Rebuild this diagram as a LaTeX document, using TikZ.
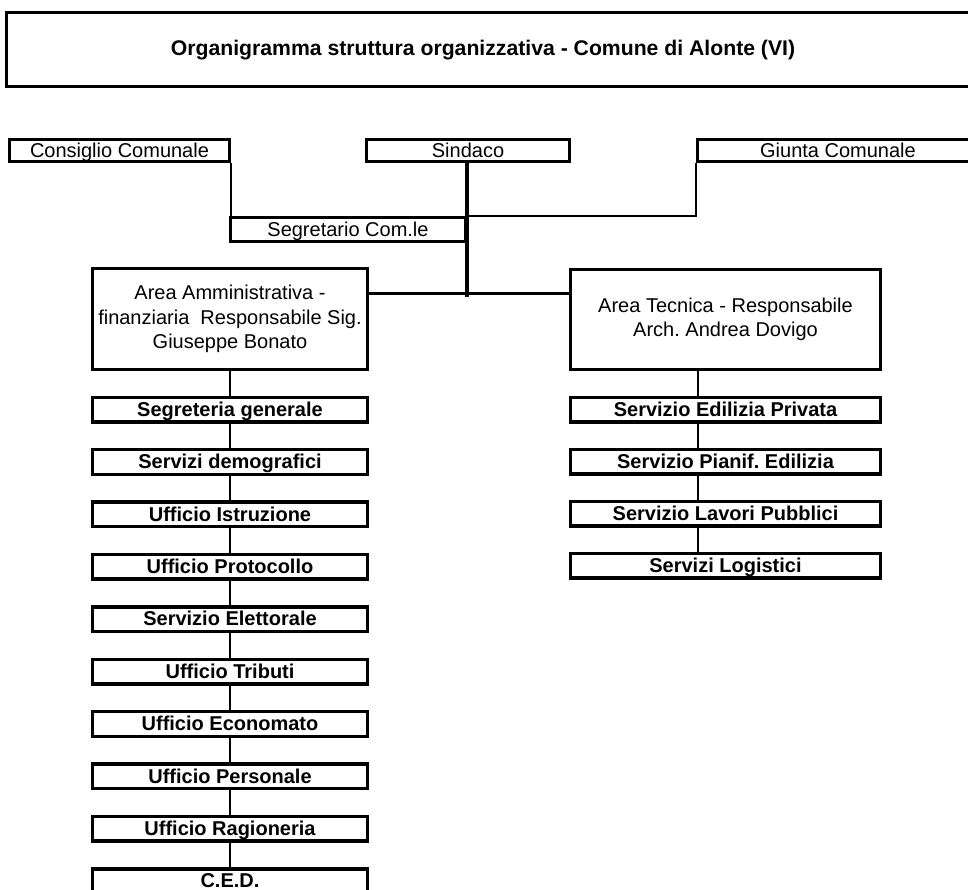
\documentclass[tikz,border=0pt]{standalone}
\usepackage{fontspec}
\setmainfont{Liberation Sans}
\begin{document}
\begin{tikzpicture}[x=1pt,y=-1pt,
  every node/.style={inner sep=0pt, align=center},
  boxb/.style={draw, line width=3.4pt, font=\fontsize{20}{24.5}\selectfont},
  oneline/.style={text height=16.5pt, text depth=3pt},
  unit/.style={boxb, oneline, font=\fontsize{20}{24.5}\selectfont\bfseries, minimum height=24.6pt},
  lcol/.style={unit, minimum width=274.6pt},
  rcol/.style={unit, minimum width=309.6pt},
  thinline/.style={line width=1.4pt},
  thickline/.style={line width=3.5pt},
  colline/.style={line width=2.6pt}]
\useasboundingbox (0,0) rectangle (968,890);
% title
\draw[line width=3.4pt] (6.7,12.7) rectangle (990,86.3);
\node[font=\fontsize{21.2}{25}\selectfont\bfseries] (title) at (483,50) {Organigramma struttura organizzativa - Comune di Alonte (VI)};
% top row
\node[boxb, oneline, minimum width=219.6pt, minimum height=21.6pt] (cc) at (119.5,150.5) {Consiglio Comunale};
\node[boxb, oneline, minimum width=202.6pt, minimum height=21.6pt] (sind) at (468,150.5) {Sindaco};
\node[boxb, oneline, minimum width=280.6pt, minimum height=21.6pt] (giunta) at (838,150.5) {Giunta Comunale};
\node[boxb, oneline, minimum width=234.6pt, minimum height=23.6pt] (segr) at (348,229.5) {Segretario Com.le};
% areas
\node[boxb, minimum width=274.6pt, minimum height=100.6pt] (areaA) at (230,319) {Area Amministrativa -\\finanziaria\ \ Responsabile Sig.\\Giuseppe Bonato};
\node[boxb, minimum width=309.6pt, minimum height=99.6pt] (areaT) at (725.5,319.5) {Area Tecnica - Responsabile\\Arch.\ Andrea Dovigo};
% left column
\node[lcol] (l1) at (230,409.5) {Segreteria generale};
\node[lcol] (l2) at (230,461.9) {Servizi demografici};
\node[lcol] (l3) at (230,514.3) {Ufficio Istruzione};
\node[lcol] (l4) at (230,566.7) {Ufficio Protocollo};
\node[lcol] (l5) at (230,619.1) {Servizio Elettorale};
\node[lcol] (l6) at (230,671.5) {Ufficio Tributi};
\node[lcol] (l7) at (230,723.9) {Ufficio Economato};
\node[lcol] (l8) at (230,776.3) {Ufficio Personale};
\node[lcol] (l9) at (230,828.7) {Ufficio Ragioneria};
\node[lcol] (l10) at (230,881.1) {C.E.D.};
% right column
\node[rcol] (r1) at (725.5,409.5) {Servizio Edilizia Privata};
\node[rcol] (r2) at (725.5,461.5) {Servizio Pianif.\ Edilizia};
\node[rcol] (r3) at (725.5,513.5) {Servizio Lavori Pubblici};
\node[rcol] (r4) at (725.5,565.5) {Servizi Logistici};
% connectors top
\draw[thinline] (cc.south east) -- (cc.south east |- segr.north west);
\draw[thinline] (giunta.south west) |- (segr.north east);
\coordinate (j) at (467,293.5);
\coordinate (jb) at (467,297);
\draw[thickline] (sind.south -| j) -- (jb);
\draw[thickline] (areaA.east |- j) -- (areaT.west |- j);
% left column connectors
\draw[colline] (areaA.south) -- (l1.north);
\foreach \a/\b in {l1/l2,l2/l3,l3/l4,l4/l5,l5/l6,l6/l7,l7/l8,l8/l9,l9/l10}
  \draw[colline] (\a.south) -- (\b.north);
% right column connectors
\coordinate (rx) at (698,380);
\draw[colline] (areaT.south -| rx) -- (r1.north -| rx);
\foreach \a/\b in {r1/r2,r2/r3,r3/r4}
  \draw[colline] (\a.south -| rx) -- (\b.north -| rx);
\end{tikzpicture}
\end{document}
